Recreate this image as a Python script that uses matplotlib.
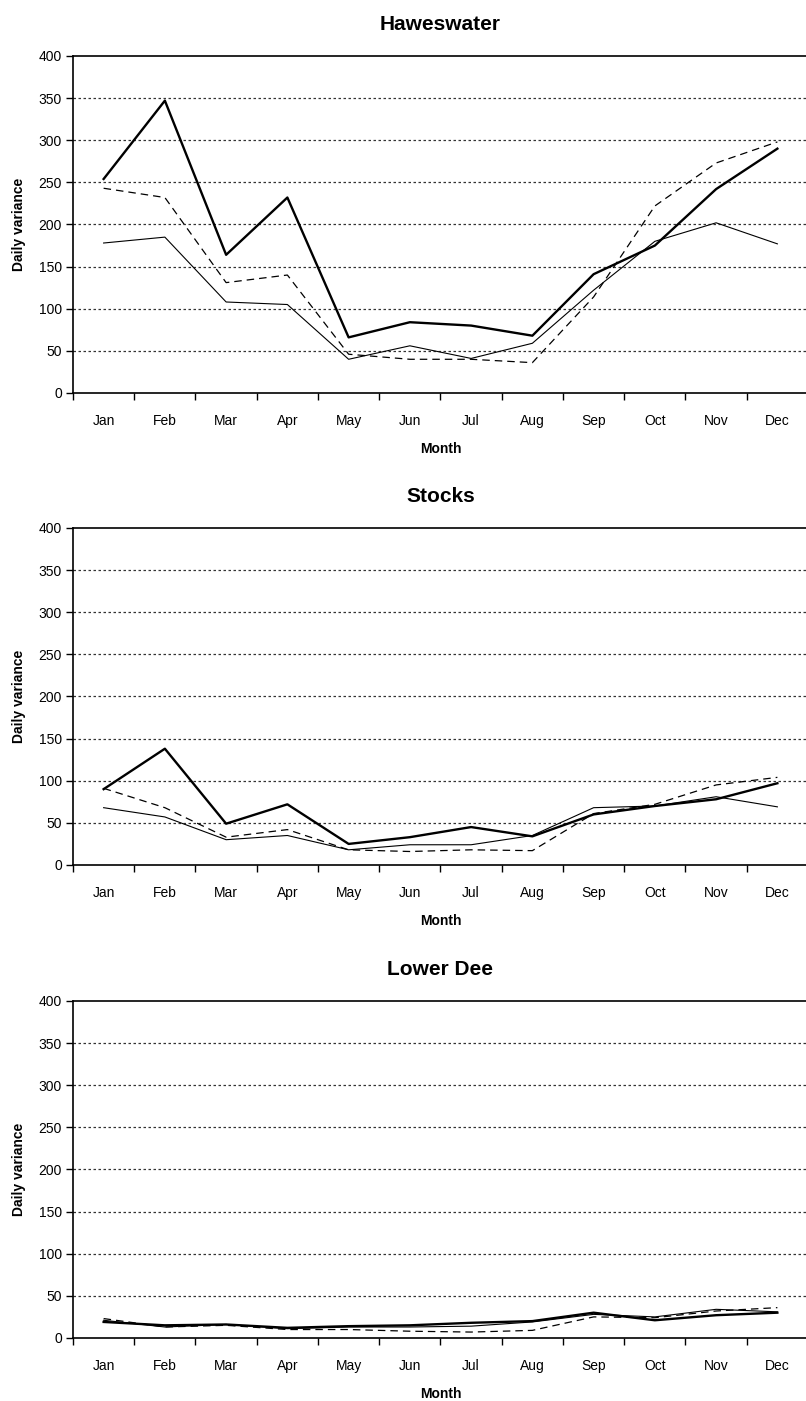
import matplotlib
matplotlib.use("Agg")
import matplotlib.pyplot as plt
import numpy as np

plt.rcParams['font.family'] = ['Liberation Sans', 'DejaVu Sans']

months = ["Jan", "Feb", "Mar", "Apr", "May", "Jun",
          "Jul", "Aug", "Sep", "Oct", "Nov", "Dec"]
sites = ["Haweswater", "Stocks", "Lower Dee"]

# daily variance per month, three series per site
haweswater_bold = [254, 347, 164, 232, 66, 84, 80, 68, 141, 175, 242, 290]
haweswater_dash = [243, 232, 131, 140, 46, 40, 40, 36, 114, 222, 273, 298]
haweswater_thin = [178, 185, 108, 105, 40, 56, 41, 59, 122, 180, 202, 177]

stocks_bold = [90, 138, 49, 72, 25, 33, 45, 34, 60, 70, 78, 97]
stocks_dash = [91, 68, 33, 42, 18, 16, 18, 17, 61, 72, 95, 104]
stocks_thin = [68, 57, 30, 35, 18, 24, 24, 35, 68, 70, 81, 69]

dee_bold = [19, 15, 16, 12, 14, 15, 18, 20, 30, 21, 27, 30]
dee_dash = [23, 13, 15, 10, 10, 8, 7, 9, 25, 24, 32, 36]
dee_thin = [21, 13, 16, 11, 13, 13, 14, 19, 28, 25, 34, 31]

bold = [haweswater_bold, stocks_bold, dee_bold]
dash = [haweswater_dash, stocks_dash, dee_dash]
thin = [haweswater_thin, stocks_thin, dee_thin]

fig = plt.figure(figsize=(8.06, 14.01), dpi=100)
x = np.arange(len(months))
bottoms = [0.7195, 0.3826, 0.045]

for i in range(3):
    ax = fig.add_axes([73/806, bottoms[i], 735/806, 337/1401])
    for y in range(50, 400, 50):
        ax.axhline(y, color="#333333", lw=0.9, ls=(0, (2, 2)), zorder=1)
    ax.plot(x, thin[i], color="black", lw=0.8, zorder=3)
    ax.plot(x, dash[i], color="black", lw=0.9, ls=(0, (6, 4)), zorder=3)
    ax.plot(x, bold[i], color="black", lw=1.7, zorder=4)

    ax.set_xlim(-0.5, 11.5)
    ax.set_ylim(0, 400)
    ax.set_yticks(range(0, 401, 50))
    ax.set_xticks(np.arange(-0.5, 12, 1))
    ax.set_xticklabels([])
    ax.set_xticks(x, minor=True)
    ax.set_xticklabels(months, minor=True)
    ax.tick_params(axis="x", which="minor", length=0, pad=15, labelsize=10)
    ax.tick_params(axis="x", which="major", length=5, width=1)
    ax.tick_params(axis="y", length=5, width=1, labelsize=10, pad=3)
    for s in ax.spines.values():
        s.set_linewidth(1.2)
    ax.spines["right"].set_visible(False)

    ax.set_title(sites[i], fontsize=15, fontweight="bold", pad=19)
    ax.set_xlabel("Month", fontsize=10, fontweight="bold", labelpad=10)
    ax.set_ylabel("Daily variance", fontsize=10, fontweight="bold", labelpad=9)

fig.savefig("out.png", dpi=100)
